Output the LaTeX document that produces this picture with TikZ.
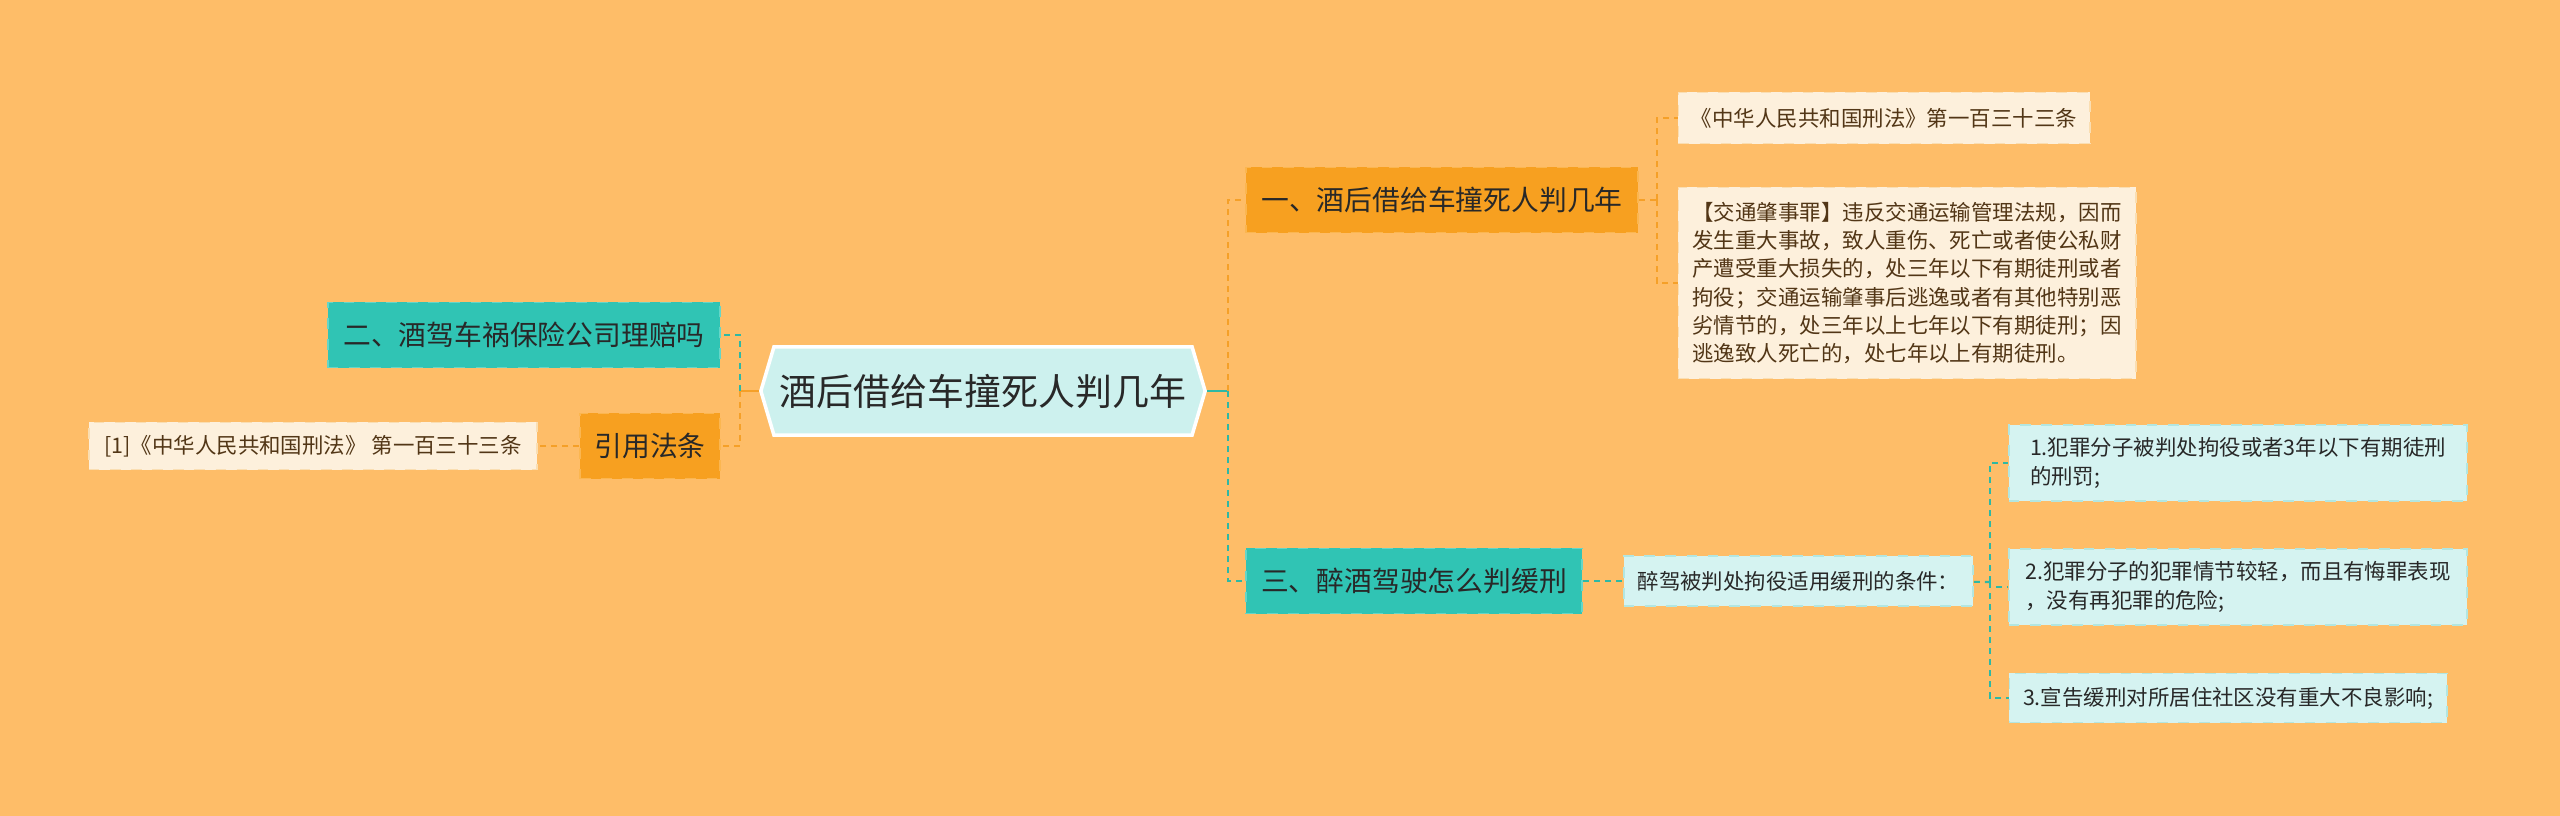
\documentclass[tikz,border=0pt]{standalone}
\usepackage{fontspec}
\setmainfont{Noto Sans CJK SC}
\usetikzlibrary{positioning, shapes.symbols}

\definecolor{bgorange}{RGB}{254,189,104}
\definecolor{boxorange}{RGB}{247,160,32}
\definecolor{edgeorange}{RGB}{251,182,80}
\definecolor{boxteal}{RGB}{48,196,180}
\definecolor{edgeteal}{RGB}{100,214,200}
\definecolor{boxcream}{RGB}{253,240,220}
\definecolor{edgecream}{RGB}{250,222,178}
\definecolor{boxcyan}{RGB}{213,243,241}
\definecolor{edgecyan}{RGB}{178,230,225}
\definecolor{rootfill}{RGB}{205,241,238}
\definecolor{lineorange}{RGB}{245,160,40}
\definecolor{lineteal}{RGB}{46,184,164}
\definecolor{textdark}{RGB}{40,40,40}
\definecolor{textbrown}{RGB}{82,54,22}

\begin{document}
\begin{tikzpicture}[
    x=0.01cm, y=-0.01cm, % one unit is one pixel of the layout
    every node/.style={font=\fontsize{6.1pt}{8pt}\selectfont, text=textdark, inner sep=0pt},
    rootbox/.style={signal, signal to=east and west, signal pointer angle=147,
        fill=rootfill, draw=white, line width=1pt,
        font=\fontsize{10.5pt}{12pt}\selectfont, minimum width=4.44cm, minimum height=0.88cm},
    orangebox/.style={fill=boxorange, draw=edgeorange, dashed, line width=0.5pt,
        font=\fontsize{7.9pt}{9pt}\selectfont, minimum height=0.65cm},
    tealbox/.style={fill=boxteal, draw=edgeteal, dashed, line width=0.5pt,
        font=\fontsize{7.9pt}{9pt}\selectfont, minimum height=0.65cm},
    creambox/.style={fill=boxcream, draw=edgecream, dashed, line width=0.5pt, text=textbrown, align=left},
    cyanbox/.style={fill=boxcyan, draw=edgecyan, dashed, line width=0.5pt, align=left},
    solidlink/.style={line width=0.6pt},
    dashlink/.style={line width=0.6pt, dash pattern=on 0.06cm off 0.05cm}
]
    % background and page size
    \fill[bgorange] (0,0) rectangle (2560,816);
    \useasboundingbox (0,0) rectangle (2560,816);

    % Place the nodes
    \node[rootbox] (root) at (983,391) {酒后借给车撞死人判几年};

    \node[orangebox, minimum width=3.92cm] (judge) at (1442,200) {一、酒后借给车撞死人判几年};
    \node[creambox, minimum width=4.11cm, minimum height=0.51cm] (lawref) at (1884,118)
        {《中华人民共和国刑法》第一百三十三条};
    \node[creambox, minimum width=4.57cm, minimum height=1.91cm] (crime) at (1907,283)
        {【交通肇事罪】违反交通运输管理法规，因而\\
         发生重大事故，致人重伤、死亡或者使公私财\\
         产遭受重大损失的，处三年以下有期徒刑或者\\
         拘役；交通运输肇事后逃逸或者有其他特别恶\\
         劣情节的，处三年以上七年以下有期徒刑；因\\
         逃逸致人死亡的，处七年以上有期徒刑。};

    \node[tealbox, minimum width=3.92cm] (insure) at (524,335) {二、酒驾车祸保险公司理赔吗};
    \node[orangebox, minimum width=1.40cm] (cite) at (650,446) {引用法条};
    \node[creambox, minimum width=4.48cm, minimum height=0.47cm, left=0.41cm of cite] (citelaw)
        {[1]《中华人民共和国刑法》 第一百三十三条};

    \node[tealbox, minimum width=3.36cm] (probation) at (1414,581) {三、醉酒驾驶怎么判缓刑};
    \node[cyanbox, minimum width=3.49cm, minimum height=0.50cm, right=0.40cm of probation] (cond)
        {醉驾被判处拘役适用缓刑的条件：};
    \node[cyanbox, minimum width=4.58cm, minimum height=0.76cm] (condA) at (2238,463)
        {1.犯罪分子被判处拘役或者3年以下有期徒刑\\的刑罚;};
    \node[cyanbox, minimum width=4.58cm, minimum height=0.76cm] (condB) at (2238,587)
        {2.犯罪分子的犯罪情节较轻，而且有悔罪表现\\，没有再犯罪的危险;};
    \node[cyanbox, minimum width=4.37cm, minimum height=0.49cm] (condC) at (2228,698)
        {3.宣告缓刑对所居住社区没有重大不良影响;};

    % branch points
    \coordinate (rj) at (1228,391);
    \coordinate (lj) at (740,391);
    \coordinate (aj) at (1657,200);
    \coordinate (cj) at (1990,582);

    % Draw the links
    \draw[solidlink, lineteal] (root.east) -- (rj);
    \draw[dashlink, lineorange] (rj) |- (judge.west);
    \draw[dashlink, lineteal] (rj) |- (probation.west);

    \draw[solidlink, lineorange] (root.west) -- (lj);
    \draw[dashlink, lineteal] (lj) |- (insure.east);
    \draw[dashlink, lineorange] (lj) |- (cite.east);
    \draw[dashlink, lineorange] (cite) -- (citelaw);

    \draw[dashlink, lineorange] (judge) -- (aj);
    \draw[dashlink, lineorange] (aj) |- (lawref.west);
    \draw[dashlink, lineorange] (aj) |- (crime.west);

    \draw[dashlink, lineteal] (probation) -- (cond);
    \draw[dashlink, lineteal] (cond) -- (cj);
    \draw[dashlink, lineteal] (cj) |- (condA.west);
    \draw[dashlink, lineteal] (cj) |- (condB.west);
    \draw[dashlink, lineteal] (cj) |- (condC.west);
\end{tikzpicture}
\end{document}
